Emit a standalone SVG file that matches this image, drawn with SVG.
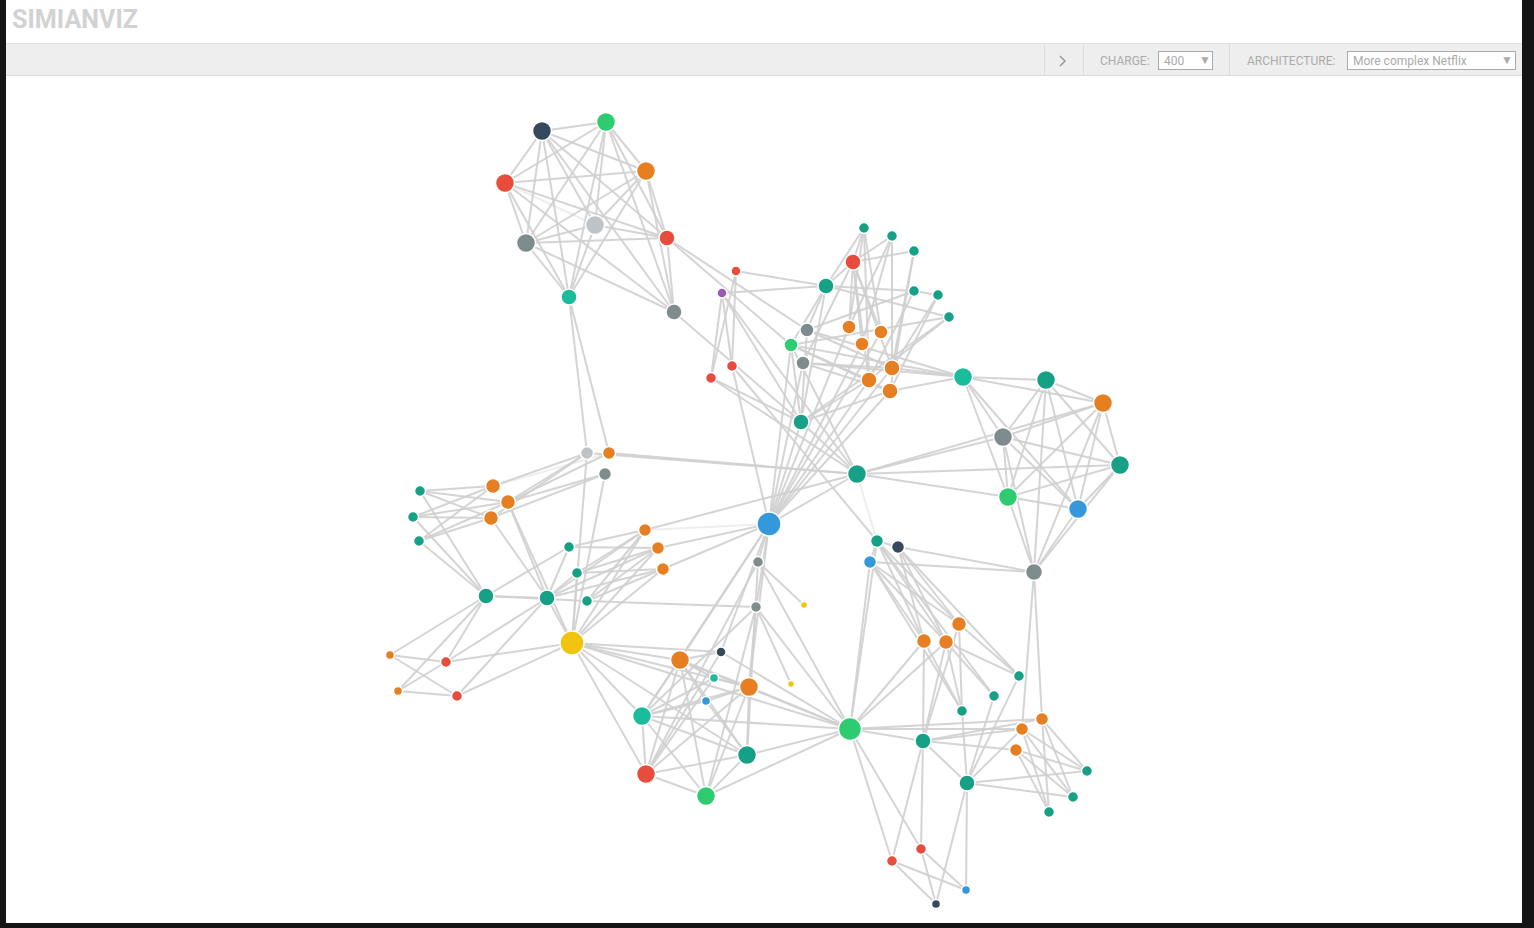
<svg xmlns="http://www.w3.org/2000/svg" width="1534" height="928" viewBox="0 0 1534 928">
<style>
.e line{stroke:#cfcfcf;stroke-width:2;stroke-opacity:0.9}
.e line.l{stroke-opacity:0.35}
circle{stroke:#fff;stroke-width:1.5}
.navy{fill:#34495e}.grn{fill:#2ecc71}.org{fill:#e67e22}.red{fill:#e74c3c}.lg{fill:#bdc3c7}.gry{fill:#7f8c8d}.tl{fill:#1abc9c}.dt{fill:#16a085}.blu{fill:#3498db}.yel{fill:#f1c40f}.pur{fill:#9b59b6}
.tb{font-family:Roboto,"Liberation Sans",sans-serif;font-size:12px;fill:#aaa}
</style>
<rect x="0" y="0" width="1534" height="928" fill="#fff"/>
<g id="header">
<text x="12" y="28" font-family="Roboto,'Liberation Sans',sans-serif" font-weight="bold" font-size="26" fill="#d2d2d2" textLength="126" lengthAdjust="spacingAndGlyphs">SIMIANVIZ</text>
<rect x="6" y="43" width="1516" height="33" fill="#eeeeee"/>
<line x1="6" y1="43.5" x2="1522" y2="43.5" stroke="#e2e2e2"/>
<line x1="6" y1="75.5" x2="1522" y2="75.5" stroke="#dcdcdc"/>
<line x1="1044.5" y1="44" x2="1044.5" y2="75" stroke="#dcdcdc"/>
<line x1="1083.5" y1="44" x2="1083.5" y2="75" stroke="#dcdcdc"/>
<line x1="1229.5" y1="44" x2="1229.5" y2="75" stroke="#dcdcdc"/>
<path d="M1060 56 L1065 61 L1060 66" fill="none" stroke="#9a9a9a" stroke-width="1.5"/>
<text class="tb" x="1100" y="65">CHARGE:</text>
<rect x="1158.5" y="51.5" width="54" height="18" fill="#fff" stroke="#aaa"/>
<text class="tb" x="1164" y="65" fill="#999">400</text>
<text class="tb" x="1199" y="64" font-size="9" fill="#888">▼</text>
<text class="tb" x="1247" y="65">ARCHITECTURE:</text>
<rect x="1347.5" y="51.5" width="168" height="18" fill="#fff" stroke="#aaa"/>
<text class="tb" x="1353" y="65">More complex Netflix</text>
<text class="tb" x="1501" y="64" font-size="9" fill="#888">▼</text>
</g>
<g id="connectors" class="e">
<line x1="542" y1="131" x2="606" y2="122"/><line x1="542" y1="131" x2="505" y2="183"/><line x1="542" y1="131" x2="646" y2="171"/><line x1="542" y1="131" x2="526" y2="243"/><line x1="542" y1="131" x2="569" y2="297"/><line x1="542" y1="131" x2="595" y2="225"/><line x1="542" y1="131" x2="674" y2="312"/><line x1="542" y1="131" x2="667" y2="238"/>
<line x1="606" y1="122" x2="505" y2="183"/><line x1="606" y1="122" x2="646" y2="171"/><line x1="606" y1="122" x2="595" y2="225"/><line x1="606" y1="122" x2="526" y2="243"/><line x1="606" y1="122" x2="569" y2="297"/><line x1="606" y1="122" x2="667" y2="238"/><line x1="606" y1="122" x2="674" y2="312"/>
<line x1="646" y1="171" x2="505" y2="183"/><line x1="646" y1="171" x2="526" y2="243"/><line x1="646" y1="171" x2="569" y2="297"/><line x1="646" y1="171" x2="595" y2="225"/><line x1="646" y1="171" x2="667" y2="238"/><line x1="646" y1="171" x2="674" y2="312"/>
<line x1="505" y1="183" x2="526" y2="243"/><line x1="505" y1="183" x2="595" y2="225" class="l"/><line x1="505" y1="183" x2="667" y2="238"/><line x1="505" y1="183" x2="674" y2="312"/><line x1="505" y1="183" x2="569" y2="297"/>
<line x1="595" y1="225" x2="526" y2="243"/><line x1="595" y1="225" x2="667" y2="238"/><line x1="595" y1="225" x2="569" y2="297"/><line x1="526" y1="243" x2="667" y2="238"/><line x1="526" y1="243" x2="569" y2="297"/><line x1="526" y1="243" x2="674" y2="312"/><line x1="667" y1="238" x2="674" y2="312"/>
<line x1="569" y1="297" x2="587" y2="453"/><line x1="569" y1="297" x2="609" y2="453"/><line x1="667" y1="238" x2="807" y2="330"/><line x1="667" y1="238" x2="791" y2="345"/><line x1="674" y1="312" x2="801" y2="422"/>
<line x1="736" y1="271" x2="826" y2="286"/><line x1="736" y1="271" x2="711" y2="378"/><line x1="736" y1="271" x2="732" y2="366"/><line x1="722" y1="293" x2="711" y2="378"/><line x1="722" y1="293" x2="732" y2="366"/><line x1="722" y1="293" x2="826" y2="286"/><line x1="722" y1="293" x2="801" y2="422"/><line x1="711" y1="378" x2="801" y2="422"/><line x1="732" y1="366" x2="769" y2="524"/><line x1="711" y1="378" x2="857" y2="474"/><line x1="732" y1="366" x2="877" y2="541"/><line x1="722" y1="293" x2="857" y2="474"/>
<line x1="826" y1="286" x2="853" y2="262"/><line x1="826" y1="286" x2="864" y2="228"/><line x1="826" y1="286" x2="914" y2="291"/><line x1="826" y1="286" x2="949" y2="317"/><line x1="826" y1="286" x2="807" y2="330"/><line x1="826" y1="286" x2="801" y2="422"/><line x1="826" y1="286" x2="791" y2="345"/>
<line x1="853" y1="262" x2="864" y2="228"/><line x1="853" y1="262" x2="892" y2="236"/><line x1="853" y1="262" x2="914" y2="251"/><line x1="853" y1="262" x2="849" y2="327"/><line x1="853" y1="262" x2="881" y2="332"/><line x1="853" y1="262" x2="862" y2="344"/><line x1="853" y1="262" x2="892" y2="368"/><line x1="853" y1="262" x2="869" y2="380"/><line x1="853" y1="262" x2="803" y2="363"/>
<line x1="864" y1="228" x2="849" y2="327"/><line x1="864" y1="228" x2="881" y2="332"/><line x1="864" y1="228" x2="869" y2="380"/><line x1="892" y1="236" x2="862" y2="344"/><line x1="892" y1="236" x2="892" y2="368"/><line x1="892" y1="236" x2="849" y2="327"/><line x1="914" y1="251" x2="892" y2="368"/><line x1="914" y1="251" x2="890" y2="391"/>
<line x1="914" y1="291" x2="938" y2="295"/><line x1="914" y1="291" x2="869" y2="380"/><line x1="914" y1="291" x2="807" y2="330"/><line x1="938" y1="295" x2="890" y2="391"/><line x1="938" y1="295" x2="892" y2="368"/><line x1="949" y1="317" x2="869" y2="380"/><line x1="949" y1="317" x2="801" y2="422"/><line x1="949" y1="317" x2="791" y2="345"/>
<line x1="807" y1="330" x2="892" y2="368"/><line x1="807" y1="330" x2="963" y2="377"/><line x1="807" y1="330" x2="801" y2="422"/><line x1="791" y1="345" x2="869" y2="380"/><line x1="791" y1="345" x2="890" y2="391"/><line x1="791" y1="345" x2="963" y2="377"/><line x1="791" y1="345" x2="801" y2="422"/><line x1="791" y1="345" x2="769" y2="524"/>
<line x1="803" y1="363" x2="892" y2="368"/><line x1="803" y1="363" x2="890" y2="391"/><line x1="803" y1="363" x2="963" y2="377"/><line x1="803" y1="363" x2="769" y2="524"/>
<line x1="849" y1="327" x2="769" y2="524"/><line x1="881" y1="332" x2="769" y2="524"/><line x1="862" y1="344" x2="769" y2="524"/><line x1="892" y1="368" x2="769" y2="524"/><line x1="869" y1="380" x2="769" y2="524"/><line x1="890" y1="391" x2="769" y2="524"/><line x1="801" y1="422" x2="769" y2="524"/>
<line x1="892" y1="368" x2="963" y2="377"/><line x1="890" y1="391" x2="963" y2="377"/><line x1="869" y1="380" x2="801" y2="422"/><line x1="890" y1="391" x2="801" y2="422"/>
<line x1="963" y1="377" x2="1046" y2="380"/><line x1="963" y1="377" x2="1003" y2="437"/><line x1="963" y1="377" x2="1008" y2="497"/><line x1="963" y1="377" x2="1103" y2="403"/><line x1="963" y1="377" x2="1078" y2="509"/>
<line x1="1046" y1="380" x2="1103" y2="403"/><line x1="1046" y1="380" x2="1003" y2="437"/><line x1="1046" y1="380" x2="1120" y2="465"/><line x1="1046" y1="380" x2="1008" y2="497"/><line x1="1046" y1="380" x2="1078" y2="509"/><line x1="1046" y1="380" x2="1034" y2="572"/>
<line x1="1103" y1="403" x2="1003" y2="437"/><line x1="1103" y1="403" x2="1120" y2="465"/><line x1="1103" y1="403" x2="1008" y2="497"/><line x1="1103" y1="403" x2="1078" y2="509"/><line x1="1103" y1="403" x2="1034" y2="572"/>
<line x1="1003" y1="437" x2="1120" y2="465"/><line x1="1003" y1="437" x2="1008" y2="497"/><line x1="1003" y1="437" x2="1078" y2="509"/><line x1="1003" y1="437" x2="1034" y2="572"/>
<line x1="1120" y1="465" x2="1008" y2="497"/><line x1="1120" y1="465" x2="1078" y2="509"/><line x1="1120" y1="465" x2="1034" y2="572"/><line x1="1008" y1="497" x2="1078" y2="509"/><line x1="1008" y1="497" x2="1034" y2="572"/><line x1="1078" y1="509" x2="1034" y2="572"/>
<line x1="857" y1="474" x2="1003" y2="437"/><line x1="857" y1="474" x2="1103" y2="403"/><line x1="857" y1="474" x2="1120" y2="465"/><line x1="857" y1="474" x2="1008" y2="497"/>
<line x1="1034" y1="572" x2="898" y2="547"/><line x1="1034" y1="572" x2="870" y2="562"/><line x1="1034" y1="572" x2="1042" y2="719"/><line x1="1034" y1="572" x2="1022" y2="729"/>
<line x1="857" y1="474" x2="587" y2="453"/><line x1="857" y1="474" x2="609" y2="453"/><line x1="857" y1="474" x2="769" y2="524"/><line x1="857" y1="474" x2="645" y2="530"/><line x1="857" y1="474" x2="801" y2="422"/><line x1="857" y1="474" x2="791" y2="345"/><line x1="857" y1="474" x2="877" y2="541" class="l"/>
<line x1="769" y1="524" x2="645" y2="530" class="l"/><line x1="769" y1="524" x2="658" y2="548"/><line x1="769" y1="524" x2="663" y2="569"/><line x1="769" y1="524" x2="758" y2="562"/><line x1="769" y1="524" x2="680" y2="660"/><line x1="769" y1="524" x2="642" y2="716"/><line x1="769" y1="524" x2="721" y2="652"/><line x1="769" y1="524" x2="749" y2="687"/><line x1="769" y1="524" x2="756" y2="607"/>
<line x1="758" y1="562" x2="646" y2="774"/><line x1="758" y1="562" x2="804" y2="605"/><line x1="758" y1="562" x2="850" y2="729"/><line x1="758" y1="562" x2="747" y2="755"/>
<line x1="756" y1="607" x2="587" y2="601"/><line x1="756" y1="607" x2="791" y2="684"/><line x1="756" y1="607" x2="706" y2="796"/><line x1="756" y1="607" x2="850" y2="729"/><line x1="756" y1="607" x2="749" y2="687"/><line x1="756" y1="607" x2="642" y2="716"/>
<line x1="721" y1="652" x2="680" y2="660"/><line x1="721" y1="652" x2="850" y2="729"/><line x1="721" y1="652" x2="646" y2="774"/>
<line x1="714" y1="678" x2="680" y2="660"/><line x1="714" y1="678" x2="749" y2="687"/><line x1="714" y1="678" x2="646" y2="774"/><line x1="714" y1="678" x2="642" y2="716"/>
<line x1="706" y1="701" x2="749" y2="687"/><line x1="706" y1="701" x2="747" y2="755"/><line x1="706" y1="701" x2="642" y2="716"/><line x1="706" y1="701" x2="680" y2="660"/>
<line x1="587" y1="453" x2="493" y2="486"/><line x1="587" y1="453" x2="508" y2="502"/><line x1="587" y1="453" x2="491" y2="518"/><line x1="609" y1="453" x2="508" y2="502"/><line x1="609" y1="453" x2="493" y2="486" class="l"/><line x1="605" y1="474" x2="508" y2="502"/><line x1="605" y1="474" x2="491" y2="518"/><line x1="605" y1="474" x2="572" y2="643"/><line x1="587" y1="453" x2="572" y2="643"/>
<line x1="493" y1="486" x2="420" y2="491"/><line x1="493" y1="486" x2="413" y2="517"/><line x1="493" y1="486" x2="419" y2="541"/><line x1="508" y1="502" x2="420" y2="491"/><line x1="508" y1="502" x2="413" y2="517"/><line x1="508" y1="502" x2="419" y2="541"/><line x1="491" y1="518" x2="420" y2="491"/><line x1="491" y1="518" x2="413" y2="517"/><line x1="491" y1="518" x2="419" y2="541"/>
<line x1="420" y1="491" x2="486" y2="596"/><line x1="413" y1="517" x2="486" y2="596"/><line x1="419" y1="541" x2="486" y2="596"/><line x1="508" y1="502" x2="547" y2="598"/><line x1="508" y1="502" x2="572" y2="643"/><line x1="491" y1="518" x2="547" y2="598"/>
<line x1="486" y1="596" x2="547" y2="598"/><line x1="486" y1="596" x2="569" y2="547"/><line x1="486" y1="596" x2="390" y2="655"/><line x1="486" y1="596" x2="446" y2="662"/><line x1="486" y1="596" x2="398" y2="691"/><line x1="486" y1="596" x2="587" y2="601"/>
<line x1="547" y1="598" x2="569" y2="547"/><line x1="547" y1="598" x2="577" y2="573"/><line x1="547" y1="598" x2="645" y2="530"/><line x1="547" y1="598" x2="658" y2="548"/><line x1="547" y1="598" x2="663" y2="569"/><line x1="547" y1="598" x2="572" y2="643"/><line x1="547" y1="598" x2="457" y2="696"/><line x1="547" y1="598" x2="446" y2="662"/>
<line x1="569" y1="547" x2="645" y2="530"/><line x1="569" y1="547" x2="658" y2="548"/><line x1="577" y1="573" x2="658" y2="548"/><line x1="577" y1="573" x2="663" y2="569"/><line x1="577" y1="573" x2="645" y2="530"/><line x1="587" y1="601" x2="663" y2="569"/><line x1="587" y1="601" x2="645" y2="530"/><line x1="587" y1="601" x2="658" y2="548"/>
<line x1="572" y1="643" x2="645" y2="530"/><line x1="572" y1="643" x2="658" y2="548"/><line x1="572" y1="643" x2="663" y2="569"/><line x1="572" y1="643" x2="446" y2="662"/><line x1="572" y1="643" x2="457" y2="696"/><line x1="572" y1="643" x2="680" y2="660"/><line x1="572" y1="643" x2="749" y2="687"/><line x1="572" y1="643" x2="642" y2="716"/><line x1="572" y1="643" x2="747" y2="755"/><line x1="572" y1="643" x2="646" y2="774"/><line x1="572" y1="643" x2="850" y2="729"/><line x1="572" y1="643" x2="721" y2="652"/><line x1="572" y1="643" x2="577" y2="573"/>
<line x1="390" y1="655" x2="446" y2="662"/><line x1="390" y1="655" x2="457" y2="696"/><line x1="398" y1="691" x2="446" y2="662"/><line x1="398" y1="691" x2="457" y2="696"/>
<line x1="680" y1="660" x2="642" y2="716"/><line x1="680" y1="660" x2="646" y2="774"/><line x1="680" y1="660" x2="706" y2="796"/><line x1="680" y1="660" x2="747" y2="755"/><line x1="680" y1="660" x2="749" y2="687"/><line x1="680" y1="660" x2="850" y2="729"/>
<line x1="749" y1="687" x2="642" y2="716"/><line x1="749" y1="687" x2="646" y2="774"/><line x1="749" y1="687" x2="706" y2="796"/><line x1="749" y1="687" x2="747" y2="755"/><line x1="749" y1="687" x2="850" y2="729"/>
<line x1="642" y1="716" x2="747" y2="755"/><line x1="642" y1="716" x2="646" y2="774"/><line x1="642" y1="716" x2="706" y2="796"/><line x1="642" y1="716" x2="850" y2="729"/>
<line x1="747" y1="755" x2="646" y2="774"/><line x1="747" y1="755" x2="706" y2="796"/><line x1="747" y1="755" x2="850" y2="729"/><line x1="646" y1="774" x2="706" y2="796"/><line x1="706" y1="796" x2="850" y2="729"/>
<line x1="850" y1="729" x2="870" y2="562"/><line x1="850" y1="729" x2="877" y2="541"/><line x1="850" y1="729" x2="924" y2="641"/><line x1="850" y1="729" x2="946" y2="642"/><line x1="850" y1="729" x2="923" y2="741"/><line x1="850" y1="729" x2="1022" y2="729"/><line x1="850" y1="729" x2="1042" y2="719"/><line x1="850" y1="729" x2="892" y2="861"/><line x1="850" y1="729" x2="921" y2="849"/>
<line x1="877" y1="541" x2="898" y2="547"/><line x1="877" y1="541" x2="870" y2="562"/><line x1="877" y1="541" x2="959" y2="624"/><line x1="877" y1="541" x2="924" y2="641"/><line x1="877" y1="541" x2="946" y2="642"/><line x1="898" y1="547" x2="959" y2="624"/><line x1="898" y1="547" x2="924" y2="641"/><line x1="898" y1="547" x2="946" y2="642"/><line x1="870" y1="562" x2="959" y2="624"/><line x1="870" y1="562" x2="924" y2="641"/><line x1="870" y1="562" x2="946" y2="642"/>
<line x1="877" y1="541" x2="994" y2="696"/><line x1="898" y1="547" x2="1019" y2="676"/><line x1="870" y1="562" x2="962" y2="711"/>
<line x1="959" y1="624" x2="1019" y2="676"/><line x1="959" y1="624" x2="962" y2="711"/><line x1="959" y1="624" x2="923" y2="741"/><line x1="924" y1="641" x2="962" y2="711"/><line x1="924" y1="641" x2="923" y2="741"/><line x1="946" y1="642" x2="994" y2="696"/><line x1="946" y1="642" x2="1019" y2="676"/><line x1="946" y1="642" x2="923" y2="741"/><line x1="946" y1="642" x2="962" y2="711"/>
<line x1="923" y1="741" x2="1042" y2="719"/><line x1="923" y1="741" x2="1022" y2="729"/><line x1="923" y1="741" x2="1016" y2="750"/><line x1="923" y1="741" x2="967" y2="783"/><line x1="923" y1="741" x2="921" y2="849"/><line x1="923" y1="741" x2="892" y2="861"/>
<line x1="967" y1="783" x2="1019" y2="676"/><line x1="967" y1="783" x2="994" y2="696"/><line x1="967" y1="783" x2="1087" y2="771"/><line x1="967" y1="783" x2="1073" y2="797"/><line x1="967" y1="783" x2="1022" y2="729"/><line x1="967" y1="783" x2="966" y2="890"/><line x1="967" y1="783" x2="936" y2="904"/><line x1="967" y1="783" x2="962" y2="711"/>
<line x1="1042" y1="719" x2="1087" y2="771"/><line x1="1042" y1="719" x2="1073" y2="797"/><line x1="1042" y1="719" x2="1049" y2="812"/><line x1="1022" y1="729" x2="1087" y2="771"/><line x1="1022" y1="729" x2="1049" y2="812"/><line x1="1022" y1="729" x2="1073" y2="797"/><line x1="1016" y1="750" x2="1073" y2="797"/><line x1="1016" y1="750" x2="1049" y2="812"/><line x1="1016" y1="750" x2="1087" y2="771"/>
<line x1="921" y1="849" x2="966" y2="890"/><line x1="921" y1="849" x2="936" y2="904"/><line x1="892" y1="861" x2="966" y2="890"/><line x1="892" y1="861" x2="936" y2="904"/>
</g>
<g id="nodes">
<g id="n1"><circle cx="542" cy="131" r="9.5" class="navy"/></g>
<g id="n2"><circle cx="606" cy="122" r="9.5" class="grn"/></g>
<g id="n3"><circle cx="646" cy="171" r="9.5" class="org"/></g>
<g id="n4"><circle cx="505" cy="183" r="9.5" class="red"/></g>
<g id="n5"><circle cx="595" cy="225" r="9.5" class="lg"/></g>
<g id="n6"><circle cx="526" cy="243" r="9.5" class="gry"/></g>
<g id="n7"><circle cx="667" cy="238" r="8" class="red"/></g>
<g id="n8"><circle cx="569" cy="297" r="8" class="tl"/></g>
<g id="n9"><circle cx="674" cy="312" r="8" class="gry"/></g>
<g id="n10"><circle cx="736" cy="271" r="5" class="red"/></g>
<g id="n11"><circle cx="722" cy="293" r="5" class="pur"/></g>
<g id="n12"><circle cx="711" cy="378" r="5.5" class="red"/></g>
<g id="n13"><circle cx="732" cy="366" r="5.5" class="red"/></g>
<g id="n14"><circle cx="826" cy="286" r="8" class="dt"/></g>
<g id="n15"><circle cx="853" cy="262" r="8" class="red"/></g>
<g id="n16"><circle cx="864" cy="228" r="5.5" class="dt"/></g>
<g id="n17"><circle cx="892" cy="236" r="5.5" class="dt"/></g>
<g id="n18"><circle cx="914" cy="251" r="5.5" class="dt"/></g>
<g id="n19"><circle cx="914" cy="291" r="5.5" class="dt"/></g>
<g id="n20"><circle cx="938" cy="295" r="5.5" class="dt"/></g>
<g id="n21"><circle cx="949" cy="317" r="5.5" class="dt"/></g>
<g id="n22"><circle cx="807" cy="330" r="7" class="gry"/></g>
<g id="n23"><circle cx="791" cy="345" r="7" class="grn"/></g>
<g id="n24"><circle cx="803" cy="363" r="7" class="gry"/></g>
<g id="n25"><circle cx="849" cy="327" r="7" class="org"/></g>
<g id="n26"><circle cx="881" cy="332" r="7" class="org"/></g>
<g id="n27"><circle cx="862" cy="344" r="7" class="org"/></g>
<g id="n28"><circle cx="892" cy="368" r="8" class="org"/></g>
<g id="n29"><circle cx="869" cy="380" r="8" class="org"/></g>
<g id="n30"><circle cx="890" cy="391" r="8" class="org"/></g>
<g id="n31"><circle cx="801" cy="422" r="8" class="dt"/></g>
<g id="n32"><circle cx="963" cy="377" r="9.5" class="tl"/></g>
<g id="n33"><circle cx="1046" cy="380" r="9.5" class="dt"/></g>
<g id="n34"><circle cx="1103" cy="403" r="9.5" class="org"/></g>
<g id="n35"><circle cx="1003" cy="437" r="9.5" class="gry"/></g>
<g id="n36"><circle cx="1120" cy="465" r="9.5" class="dt"/></g>
<g id="n37"><circle cx="1008" cy="497" r="9.5" class="grn"/></g>
<g id="n38"><circle cx="1078" cy="509" r="9.5" class="blu"/></g>
<g id="n39"><circle cx="1034" cy="572" r="8.5" class="gry"/></g>
<g id="n40"><circle cx="857" cy="474" r="9.5" class="dt"/></g>
<g id="n41"><circle cx="769" cy="524" r="12" class="blu"/></g>
<g id="n42"><circle cx="758" cy="562" r="5.5" class="gry"/></g>
<g id="n43"><circle cx="756" cy="607" r="5.5" class="gry"/></g>
<g id="n44"><circle cx="804" cy="605" r="3.5" class="yel"/></g>
<g id="n45"><circle cx="721" cy="652" r="5" class="navy"/></g>
<g id="n46"><circle cx="714" cy="678" r="4.5" class="tl"/></g>
<g id="n47"><circle cx="706" cy="701" r="4.5" class="blu"/></g>
<g id="n48"><circle cx="791" cy="684" r="3.5" class="yel"/></g>
<g id="n49"><circle cx="587" cy="453" r="6.5" class="lg"/></g>
<g id="n50"><circle cx="609" cy="453" r="6.5" class="org"/></g>
<g id="n51"><circle cx="605" cy="474" r="6.5" class="gry"/></g>
<g id="n52"><circle cx="493" cy="486" r="7.5" class="org"/></g>
<g id="n53"><circle cx="508" cy="502" r="7.5" class="org"/></g>
<g id="n54"><circle cx="491" cy="518" r="7.5" class="org"/></g>
<g id="n55"><circle cx="420" cy="491" r="5.5" class="dt"/></g>
<g id="n56"><circle cx="413" cy="517" r="5.5" class="dt"/></g>
<g id="n57"><circle cx="419" cy="541" r="5.5" class="dt"/></g>
<g id="n58"><circle cx="486" cy="596" r="8" class="dt"/></g>
<g id="n59"><circle cx="547" cy="598" r="8" class="dt"/></g>
<g id="n60"><circle cx="569" cy="547" r="5.5" class="dt"/></g>
<g id="n61"><circle cx="577" cy="573" r="5.5" class="dt"/></g>
<g id="n62"><circle cx="587" cy="601" r="5.5" class="dt"/></g>
<g id="n63"><circle cx="645" cy="530" r="6.5" class="org"/></g>
<g id="n64"><circle cx="658" cy="548" r="6.5" class="org"/></g>
<g id="n65"><circle cx="663" cy="569" r="6.5" class="org"/></g>
<g id="n66"><circle cx="572" cy="643" r="12" class="yel"/></g>
<g id="n67"><circle cx="390" cy="655" r="4.5" class="org"/></g>
<g id="n68"><circle cx="446" cy="662" r="5.5" class="red"/></g>
<g id="n69"><circle cx="398" cy="691" r="4.5" class="org"/></g>
<g id="n70"><circle cx="457" cy="696" r="5.5" class="red"/></g>
<g id="n71"><circle cx="680" cy="660" r="9.5" class="org"/></g>
<g id="n72"><circle cx="749" cy="687" r="9.5" class="org"/></g>
<g id="n73"><circle cx="642" cy="716" r="9.5" class="tl"/></g>
<g id="n74"><circle cx="747" cy="755" r="9.5" class="dt"/></g>
<g id="n75"><circle cx="646" cy="774" r="9.5" class="red"/></g>
<g id="n76"><circle cx="706" cy="796" r="9.5" class="grn"/></g>
<g id="n77"><circle cx="850" cy="729" r="11.5" class="grn"/></g>
<g id="n78"><circle cx="877" cy="541" r="6.5" class="dt"/></g>
<g id="n79"><circle cx="898" cy="547" r="6.5" class="navy"/></g>
<g id="n80"><circle cx="870" cy="562" r="6.5" class="blu"/></g>
<g id="n81"><circle cx="959" cy="624" r="7.5" class="org"/></g>
<g id="n82"><circle cx="924" cy="641" r="7.5" class="org"/></g>
<g id="n83"><circle cx="946" cy="642" r="7.5" class="org"/></g>
<g id="n84"><circle cx="1019" cy="676" r="5.5" class="dt"/></g>
<g id="n85"><circle cx="994" cy="696" r="5.5" class="dt"/></g>
<g id="n86"><circle cx="962" cy="711" r="5.5" class="dt"/></g>
<g id="n87"><circle cx="923" cy="741" r="8" class="dt"/></g>
<g id="n88"><circle cx="1042" cy="719" r="6.5" class="org"/></g>
<g id="n89"><circle cx="1022" cy="729" r="6.5" class="org"/></g>
<g id="n90"><circle cx="1016" cy="750" r="6.5" class="org"/></g>
<g id="n91"><circle cx="1087" cy="771" r="5.5" class="dt"/></g>
<g id="n92"><circle cx="1073" cy="797" r="5.5" class="dt"/></g>
<g id="n93"><circle cx="1049" cy="812" r="5.5" class="dt"/></g>
<g id="n94"><circle cx="967" cy="783" r="8" class="dt"/></g>
<g id="n95"><circle cx="921" cy="849" r="5.5" class="red"/></g>
<g id="n96"><circle cx="892" cy="861" r="5.5" class="red"/></g>
<g id="n97"><circle cx="966" cy="890" r="4.5" class="blu"/></g>
<g id="n98"><circle cx="936" cy="904" r="4.5" class="navy"/></g>
</g>
<g id="frame">
<rect x="0" y="0" width="6" height="928" fill="#151515"/>
<rect x="1522" y="0" width="12" height="928" fill="#151515"/>
<rect x="0" y="923" width="1534" height="5" fill="#151515"/>
</g>
</svg>
